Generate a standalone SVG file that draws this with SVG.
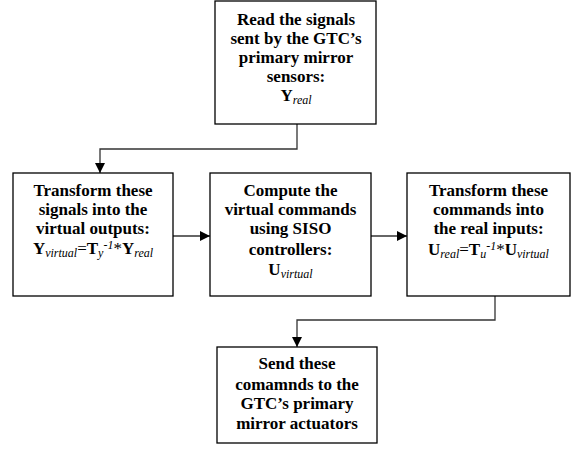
<svg xmlns="http://www.w3.org/2000/svg" width="572" height="450" viewBox="0 0 572 450">
  <style>
    .box { fill: #ffffff; stroke: #000000; stroke-width: 1.3; }
    .wire { fill: none; stroke: #333333; stroke-width: 1.3; }
    .lbl { font-family: 'Liberation Serif', 'Times New Roman', 'DejaVu Serif', serif; font-size: 17px; font-weight: bold; fill: #000000; text-anchor: middle; }
    .sub { font-size: 12px; font-style: italic; font-weight: normal; }
    .op { font-weight: normal; }
  </style>
  <defs>
    <marker id="arrow" viewBox="0 0 10 10" refX="10" refY="5" markerWidth="10" markerHeight="10" markerUnits="userSpaceOnUse" orient="auto">
      <path d="M0,0 L10,5 L0,10 Z" fill="#000000"/>
    </marker>
  </defs>

  <g id="connectors">
    <polyline class="wire" points="297,124 297,149 100,149 100,173" marker-end="url(#arrow)"/>
    <line class="wire" x1="173" y1="236" x2="210" y2="236" marker-end="url(#arrow)"/>
    <line class="wire" x1="371" y1="236" x2="407" y2="236" marker-end="url(#arrow)"/>
    <polyline class="wire" points="495,296 495,320 297,320 297,347" marker-end="url(#arrow)"/>
  </g>

  <g id="read-sensors">
    <rect class="box" x="215" y="1" width="161" height="123"/>
    <text class="lbl" x="296" y="25">Read the signals</text>
    <text class="lbl" x="296" y="44">sent by the GTC’s</text>
    <text class="lbl" x="296" y="63">primary mirror</text>
    <text class="lbl" x="296" y="82">sensors:</text>
    <text class="lbl" x="296" y="101">Y<tspan class="sub" dy="3">real</tspan></text>
  </g>

  <g id="transform-outputs">
    <rect class="box" x="13" y="173" width="160" height="123"/>
    <text class="lbl" x="93" y="196">Transform these</text>
    <text class="lbl" x="93" y="215">signals into the</text>
    <text class="lbl" x="93" y="234">virtual outputs:</text>
    <text class="lbl" x="93" y="254">Y<tspan class="sub" dy="3">virtual</tspan><tspan class="op" dy="-3">=</tspan>T<tspan class="sub" dy="3">y</tspan><tspan class="sub" dy="-8">-1</tspan><tspan class="op" dy="5">*</tspan>Y<tspan class="sub" dy="3">real</tspan></text>
  </g>

  <g id="siso-controllers">
    <rect class="box" x="210" y="173" width="161" height="123"/>
    <text class="lbl" x="290.5" y="196">Compute the</text>
    <text class="lbl" x="290.5" y="215">virtual commands</text>
    <text class="lbl" x="290.5" y="234">using SISO</text>
    <text class="lbl" x="290.5" y="255">controllers:</text>
    <text class="lbl" x="290.5" y="275">U<tspan class="sub" dy="3">virtual</tspan></text>
  </g>

  <g id="transform-inputs">
    <rect class="box" x="407" y="173" width="163" height="123"/>
    <text class="lbl" x="488.5" y="196">Transform these</text>
    <text class="lbl" x="488.5" y="215">commands into</text>
    <text class="lbl" x="488.5" y="234">the real inputs:</text>
    <text class="lbl" x="488.5" y="255">U<tspan class="sub" dy="3">real</tspan><tspan class="op" dy="-3">=</tspan>T<tspan class="sub" dy="3">u</tspan><tspan class="sub" dy="-8">-1</tspan><tspan class="op" dy="5">*</tspan>U<tspan class="sub" dy="3">virtual</tspan></text>
  </g>

  <g id="send-actuators">
    <rect class="box" x="217" y="347" width="160" height="96"/>
    <text class="lbl" x="297" y="369">Send these</text>
    <text class="lbl" x="297" y="390">comamnds to the</text>
    <text class="lbl" x="297" y="409">GTC’s primary</text>
    <text class="lbl" x="297" y="429">mirror actuators</text>
  </g>
</svg>
